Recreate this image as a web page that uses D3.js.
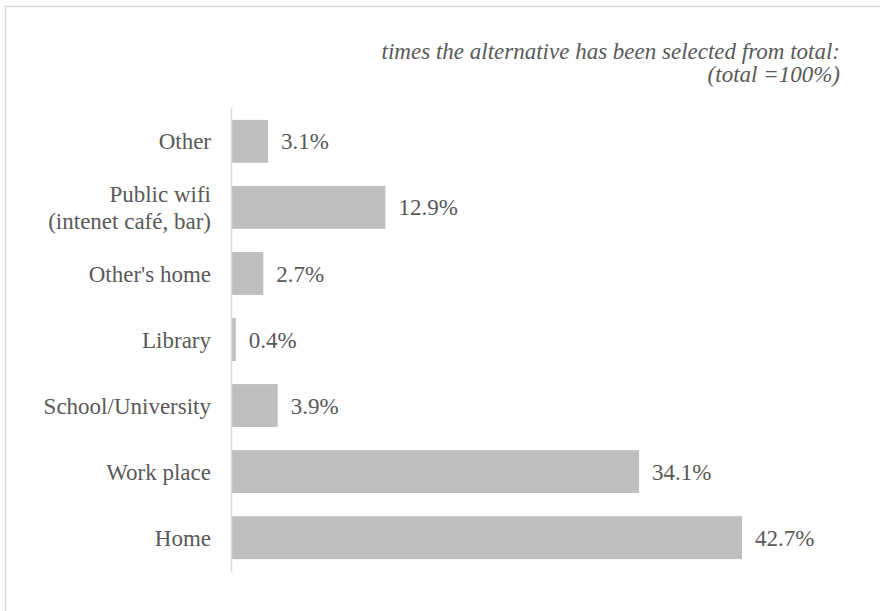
<!DOCTYPE html>
<html>
<head>
<meta charset="utf-8">
<script src="https://cdn.jsdelivr.net/npm/d3@7"></script>
<style>
  html, body { margin: 0; padding: 0; background: #fff; }
  svg { display: block; }
  svg text { font-family: "Liberation Serif"; }
</style>
</head>
<body>
<svg id="chart" width="880" height="611"></svg>
<script>
const categories = [["Other"], ["Public wifi", "(intenet café, bar)"], ["Other's home"], ["Library"], ["School/University"], ["Work place"], ["Home"]];
const values = [3.1, 12.9, 2.7, 0.4, 3.9, 34.1, 42.7];
const valueLabels = ["3.1%", "12.9%", "2.7%", "0.4%", "3.9%", "34.1%", "42.7%"];
const titleLines = ["times the alternative has been selected from total:", "(total =100%)"];

const svg = d3.select("#chart");
const W = 880, H = 611;
const textColor = "#595959";
const font = "Liberation Serif";

// frame
svg.append("rect").attr("x", 5.5).attr("y", 6.5).attr("width", W + 10).attr("height", H + 10)
  .attr("fill", "#fff").attr("stroke", "#d9d9d9").attr("stroke-width", 1.5);

const x0 = 231;
const x = d3.scaleLinear().domain([0, 42.7]).range([x0, 742]);
const keys = categories.map((c, i) => i);
const y = d3.scaleBand().domain(keys).range([108, 571]).paddingInner(0.35).paddingOuter(0.18);

// bars
svg.append("g").selectAll("rect").data(values).join("rect")
  .attr("x", x(0))
  .attr("y", (d, i) => y(i))
  .attr("width", d => x(d) - x(0))
  .attr("height", y.bandwidth())
  .attr("fill", "#bfbfbf");

// axis
const axis = d3.axisLeft(y).tickSize(0).tickFormat("");
const gAxis = svg.append("g").attr("transform", `translate(${x0},0)`).call(axis);
gAxis.attr("font-family", null);
gAxis.select(".domain").attr("stroke", "#d9d9d9").attr("stroke-width", 1.5);

// category labels
const lineH = 27;
const gLab = svg.append("g");
categories.forEach((lines, i) => {
  const cy = y(i) + y.bandwidth() / 2;
  const t = gLab.append("text")
    .attr("text-anchor", "end")
    .style("font-family", font)
    .style("font-size", "23px")
    .attr("fill", textColor);
  lines.forEach((ln, j) => {
    t.append("tspan")
      .attr("x", 211)
      .attr("y", cy + (j - (lines.length - 1) / 2) * lineH)
      .attr("dy", "0.35em")
      .text(ln);
  });
});

// value labels
svg.append("g").selectAll("text").data(values).join("text")
  .attr("x", d => x(d) + 13)
  .attr("y", (d, i) => y(i) + y.bandwidth() / 2)
  .attr("dy", "0.35em")
  .style("font-family", font)
  .style("font-size", "23px")
  .attr("fill", textColor)
  .text((d, i) => valueLabels[i]);

// title
svg.append("g").selectAll("text").data(titleLines).join("text")
  .attr("x", 840)
  .attr("y", (d, i) => 51 + i * 23)
  .attr("dy", "0.35em")
  .attr("text-anchor", "end")
  .style("font-family", font)
  .style("font-style", "italic")
  .style("font-size", "23px")
  .attr("fill", textColor)
  .text(d => d);
</script>
</body>
</html>
